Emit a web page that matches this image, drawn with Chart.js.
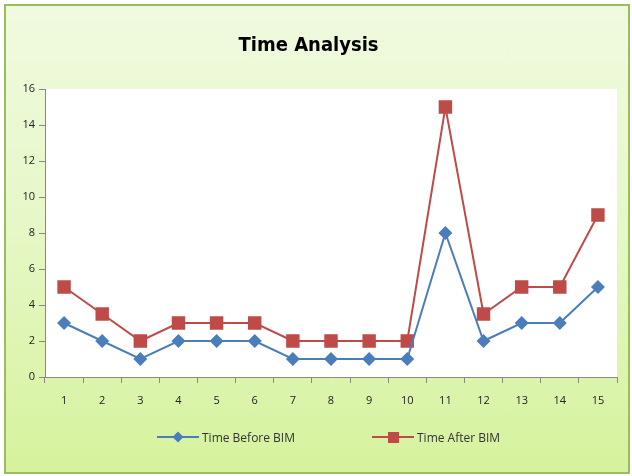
<!DOCTYPE html>
<html>
<head>
<meta charset="utf-8">
<script src="https://cdn.jsdelivr.net/npm/chart.js@4"></script>
<style>
  html, body { margin: 0; padding: 0; background: #ffffff; }
  #wrap {
    position: absolute; left: 4px; top: 4px; width: 626px; height: 470px;
    box-sizing: border-box;
    border: 2px solid #9cbd5e;
    background: linear-gradient(to bottom, #f0fadf 0%, #e6f8c8 45%, #d6f29d 100%);
  }
  #c { position: absolute; left: 0; top: 0; }
  .leg { position: absolute; top: 429px; height: 16px; display: flex; align-items: center;
         font-family: 'Open Sans', sans-serif; font-size: 12px; color: #333333; white-space: nowrap; }
  .leg canvas { margin-right: 3px; }
</style>
</head>
<body>
<div id="wrap"></div>
<canvas id="c" width="632" height="476"></canvas>
<div class="leg" id="leg0" style="left:157px"></div>
<div class="leg" id="leg1" style="left:372px"></div>
<script>
const categories = ['1','2','3','4','5','6','7','8','9','10','11','12','13','14','15'];
const timeBeforeBIM = [3, 2, 1, 2, 2, 2, 1, 1, 1, 1, 8, 2, 3, 3, 5];
const timeAfterBIM = [5, 3.5, 2, 3, 3, 3, 2, 2, 2, 2, 15, 3.5, 5, 5, 9];
const yTicks = [0, 2, 4, 6, 8, 10, 12, 14, 16];
const seriesNames = ['Time Before BIM', 'Time After BIM'];

const BLUE = '#4a7ebb';
const RED = '#be4b48';

function legendIcon(color, shape) {
  const cv = document.createElement('canvas');
  cv.width = 42; cv.height = 14;
  const g = cv.getContext('2d');
  g.strokeStyle = color; g.lineWidth = 2;
  g.beginPath(); g.moveTo(0, 7); g.lineTo(42, 7); g.stroke();
  g.fillStyle = color;
  if (shape === 'diamond') {
    g.beginPath(); g.moveTo(21, 1.5); g.lineTo(26.5, 7); g.lineTo(21, 12.5); g.lineTo(15.5, 7); g.closePath(); g.fill();
  } else {
    g.fillRect(16, 2, 11, 11);
  }
  return cv;
}

const plotBg = {
  id: 'plotBg',
  beforeDraw(chart) {
    const a = chart.chartArea, ctx = chart.ctx;
    ctx.save();
    ctx.fillStyle = '#ffffff';
    ctx.fillRect(a.left, a.top, a.right - a.left, a.bottom - a.top);
    ctx.restore();
  }
};

const chart = new Chart(document.getElementById('c'), {
  type: 'line',
  data: {
    labels: categories,
    datasets: [
      {
        label: seriesNames[0], data: timeBeforeBIM,
        borderColor: BLUE, backgroundColor: BLUE, borderWidth: 2,
        pointStyle: 'rectRot', pointRadius: 7, pointHoverRadius: 7,
        pointBorderWidth: 0, tension: 0
      },
      {
        label: seriesNames[1], data: timeAfterBIM,
        borderColor: RED, backgroundColor: RED, borderWidth: 2,
        pointStyle: 'rect', pointRadius: 9.5, pointHoverRadius: 9.5,
        pointBorderWidth: 0, tension: 0
      }
    ]
  },
  options: {
    responsive: false,
    animation: false,
    devicePixelRatio: 1,
    layout: { padding: { left: 0, right: 15, top: 22, bottom: 56 } },
    plugins: {
      title: {
        display: true, text: 'Time Analysis', color: '#000000',
        font: { family: 'DejaVu Sans Condensed', size: 20, weight: 'bold' },
        padding: { top: 12, bottom: 31 }
      },
      legend: { display: false },
      tooltip: { enabled: false }
    },
    scales: {
      x: {
        offset: true,
        grid: { display: true, drawOnChartArea: false, drawTicks: true, tickLength: 6, color: '#888888', offset: true },
        border: { display: true, color: '#888888', width: 1 },
        ticks: { color: '#222222', font: { family: 'Open Sans', size: 11 }, padding: 11 },
        afterFit(s) { s.height = 43; }
      },
      y: {
        min: 0, max: 16,
        afterBuildTicks(s) { s.ticks = yTicks.map(v => ({ value: v })); },
        grid: { display: true, drawOnChartArea: false, drawTicks: true, tickLength: 6, color: '#888888' },
        border: { display: true, color: '#888888', width: 1 },
        ticks: { color: '#222222', font: { family: 'Open Sans', size: 11 }, padding: 4 },
        afterFit(s) { s.width = 45; }
      }
    }
  },
  plugins: [plotBg]
});

chart.data.datasets.forEach((d, i) => {
  const el = document.getElementById('leg' + i);
  el.appendChild(legendIcon(d.borderColor, i === 0 ? 'diamond' : 'square'));
  const t = document.createElement('span');
  t.textContent = d.label;
  el.appendChild(t);
});
</script>
</body>
</html>
